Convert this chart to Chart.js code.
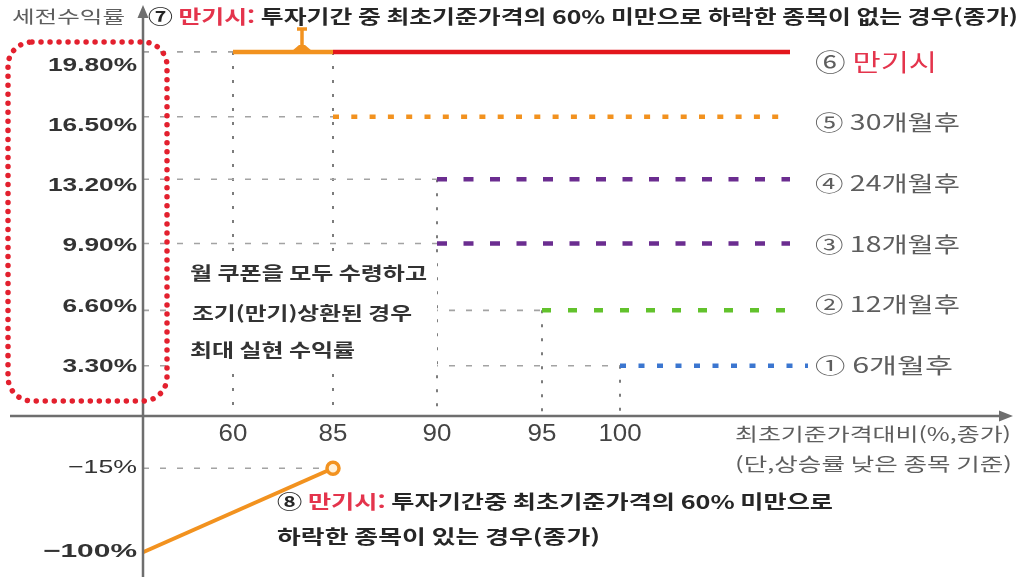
<!DOCTYPE html>
<html lang="ko">
<head>
<meta charset="utf-8">
<title>세전수익률</title>
<script src="https://cdn.jsdelivr.net/npm/chart.js@4.4.1/dist/chart.umd.min.js"></script>
<style>
  html, body { margin: 0; padding: 0; background: #fff; }
  #wrap { width: 1030px; height: 579px; position: relative; }
</style>
</head>
<body>
<div id="wrap"><canvas id="payoff"></canvas></div>
<script>
// values
const xTicks = [60, 85, 90, 95, 100];
const levels = [19.8, 16.5, 13.2, 9.9, 6.6, 3.3];
const levelLabels = ['19.80%', '16.50%', '13.20%', '9.90%', '6.60%', '3.30%'];
const seriesNames = ['⑥ 만기시', '⑤ 30개월후', '④ 24개월후', '③ 18개월후', '② 12개월후', '① 6개월후'];
const seriesStart = [85, 85, 90, 90, 95, 100];
const case7From = 60;   // ⑦ orange piece at 19.80%
const case7To = 85;
const lossX = [0, 85];   // ⑧ loss line
const lossY = [-100, -15];
const lossLabels = ['−100%', '−15%'];

// schematic axes: where each value sits on the (uneven) axes
const xSlot = { 0: 0, 60: 0.9, 85: 1.9, 90: 2.94, 95: 3.99, 100: 4.77 };
const ySlot = { 19.8: 6.01, 16.5: 4.99, 13.2: 4.01, 9.9: 3.0, 6.6: 1.95, 3.3: 1.08, 0: 0.29, '-15': -0.53, '-100': -1.85 };
const lineEnd = [6.47, 6.37, 6.47, 6.47, 6.5, 6.65];
const xs = v => xSlot[v];
const ys = v => ySlot[v];

// styles
const KR = '"Noto Sans CJK KR", "Noto Sans", sans-serif';
const NUM = '"Liberation Sans", Arial, sans-serif';
const RED = '#e3161c';
const ORANGE = '#f2921f';
const lineColors = [RED, ORANGE, '#6b2d90', '#6b2d90', '#62c22c', '#3b76d0'];
const lineDash = [[], [6, 12.3], [10, 16.5], [10, 16.5], [9, 17], [6, 12.5]];

const datasets = [];

levels.forEach((v, i) => {
    datasets.push({
        data: [{ x: xs(seriesStart[i]), y: ys(v) }, { x: lineEnd[i], y: ys(v) }],
        borderColor: lineColors[i],
        borderWidth: 4.5,
        borderDash: lineDash[i],
        order: 1
    });
});

// ⑦ no stock fell below 60%
datasets.push({
    data: [{ x: xs(case7From), y: ys(levels[0]) }, { x: xs(case7To), y: ys(levels[0]) }],
    borderColor: ORANGE,
    borderWidth: 4.5,
    order: 1
});

// ⑧ some stock fell below 60%
datasets.push({
    data: lossX.map((x, i) => ({ x: xs(x), y: ys(lossY[i]) })),
    borderColor: ORANGE,
    borderWidth: 4,
    pointRadius: [0, 6],
    pointBorderWidth: 3.5,
    pointBorderColor: ORANGE,
    pointBackgroundColor: '#fff0d8',
    order: 0
});

// gray guides: horizontal
levels.forEach((v, i) => {
    const to = i === 0 ? case7From : seriesStart[i];
    datasets.push({
        data: [{ x: 0, y: ys(v) }, { x: xs(to), y: ys(v) }],
        borderColor: '#a3a3a3',
        borderWidth: 1.6,
        borderDash: [6, 11],
        order: 5
    });
});
datasets.push({
    data: [{ x: 0, y: ys(lossY[1]) }, { x: xs(lossX[1]), y: ys(lossY[1]) }],
    borderColor: '#a3a3a3',
    borderWidth: 1.6,
    borderDash: [6, 11],
    order: 5
});

// gray guides: vertical
xTicks.forEach(x => {
    const tops = levels.filter((v, i) => seriesStart[i] === x);
    if (x === case7From) tops.push(levels[0]);
    datasets.push({
        data: [{ x: xs(x), y: ys(Math.max(...tops)) }, { x: xs(x), y: ys(0) }],
        borderColor: '#7c7c7c',
        borderWidth: 2,
        borderDash: [3, 11],
        order: 6
    });
});

// draws text parts (text, color), stretched to a width if given
function put(ctx, parts, x, y, o) {
    ctx.save();
    ctx.font = (o.weight || 'normal') + ' ' + o.size + 'px ' + (o.family || KR);
    ctx.textBaseline = 'middle';
    ctx.textAlign = 'left';
    const widths = parts.map(p => ctx.measureText(p[0]).width);
    const total = widths.reduce((a, b) => a + b, 0);
    const sx = o.width ? o.width / total : (o.sx || 1);
    const w = total * sx;
    const left = o.align === 'right' ? x - w : o.align === 'center' ? x - w / 2 : x;
    ctx.translate(left, y);
    ctx.scale(sx, 1);
    let cx = 0;
    parts.forEach((p, i) => {
        ctx.fillStyle = p[1];
        ctx.fillText(p[0], cx, 0);
        cx += widths[i];
    });
    ctx.restore();
}

function stretchFor(ctx, text, font, width) {
    ctx.save();
    ctx.font = font;
    const w = ctx.measureText(text).width;
    ctx.restore();
    return width / w;
}

const decor = {
    id: 'decor',
    afterDatasetsDraw(chart) {
        const { ctx } = chart;
        const sx = chart.scales.x, sy = chart.scales.y;
        const ax = sx.getPixelForValue(0);
        const ay = sy.getPixelForValue(ys(0));
        const W = chart.width, H = chart.height;

        // white box behind the middle note
        ctx.save();
        ctx.fillStyle = '#fff';
        ctx.fillRect(172, 253, 265, 120);
        ctx.restore();

        // axes with arrow heads
        ctx.save();
        ctx.strokeStyle = '#6e6e6e';
        ctx.fillStyle = '#6e6e6e';
        ctx.lineWidth = 2.5;
        ctx.beginPath();
        ctx.moveTo(10, ay);
        ctx.lineTo(W - 26, ay);
        ctx.moveTo(ax, H - 2);
        ctx.lineTo(ax, 14);
        ctx.stroke();
        ctx.beginPath();
        ctx.moveTo(W - 17, ay);
        ctx.lineTo(W - 31, ay - 5.5);
        ctx.lineTo(W - 31, ay + 5.5);
        ctx.closePath();
        ctx.moveTo(ax, 5);
        ctx.lineTo(ax - 5.5, 18);
        ctx.lineTo(ax + 5.5, 18);
        ctx.closePath();
        ctx.fill();
        ctx.restore();

        // red dotted frame round the yield ticks
        ctx.save();
        ctx.strokeStyle = '#e3202e';
        ctx.lineWidth = 5.5;
        ctx.lineCap = 'round';
        ctx.setLineDash([0.01, 9]);
        ctx.beginPath();
        ctx.roundRect(8, 42, 159, 359, 24);
        ctx.stroke();
        ctx.restore();

        // ⑦ pointer onto the orange piece
        const mx = sx.getPixelForValue(xs(case7From) + 0.69 * (xs(case7To) - xs(case7From)));
        const my = sy.getPixelForValue(ys(levels[0]));
        ctx.save();
        ctx.strokeStyle = ORANGE;
        ctx.fillStyle = ORANGE;
        ctx.lineWidth = 3.5;
        ctx.beginPath();
        ctx.moveTo(mx - 5, 29);
        ctx.lineTo(mx + 5, 29);
        ctx.moveTo(mx, 29);
        ctx.lineTo(mx, my);
        ctx.stroke();
        ctx.beginPath();
        ctx.moveTo(mx - 10, my - 1);
        ctx.lineTo(mx - 3, my - 7);
        ctx.lineTo(mx + 3, my - 7);
        ctx.lineTo(mx + 10, my - 1);
        ctx.closePath();
        ctx.fill();
        ctx.restore();

        const dark = '#262626', gray = '#5e5e5e', pink = '#e4344c';

        // titles
        put(ctx, [['세전수익률', gray]], 12, 17, { size: 17, width: 113 });
        put(ctx, [['⑦ ', dark], ['만기시:', pink], [' 투자기간 중 최초기준가격의 60% 미만으로 하락한 종목이 없는 경우(종가)', dark]],
            148, 17, { size: 19, weight: 'bold', width: 870 });

        // y tick labels (evenly spaced rows)
        const tickFont = 'bold 18px ' + NUM;
        const tickSx = stretchFor(ctx, levelLabels[0], tickFont, 89);
        const rowBase = sy.getPixelForValue(ys(3.3));
        levelLabels.forEach((t, i) => {
            const k = levelLabels.length - 1 - i;
            put(ctx, [[t, '#333']], ax - 6, rowBase + 1 - k * 60.2, { size: 18, weight: 'bold', family: NUM, sx: tickSx, align: 'right' });
        });
        lossY.forEach((v, i) => {
            put(ctx, [[lossLabels[i], '#333']], ax - 6, sy.getPixelForValue(ys(v)),
                { size: 19, weight: i === 0 ? 'bold' : 'normal', family: NUM, width: i === 0 ? 94 : 69, align: 'right' });
        });

        // x tick labels
        xTicks.forEach(t => {
            put(ctx, [[String(t), '#444']], sx.getPixelForValue(xs(t)), ay + 18, { size: 24, family: NUM, sx: 1.08, align: 'center' });
        });
        put(ctx, [['최초기준가격대비(%,종가)', gray]], 1011, 434, { size: 18, width: 276, align: 'right' });
        put(ctx, [['(단,상승률 낮은 종목 기준)', gray]], 1012, 464, { size: 18, width: 277, align: 'right' });

        // series names on the right
        const lx = sx.getPixelForValue(6.72);
        seriesNames.forEach((t, i) => {
            const k = seriesNames.length - 1 - i;
            const yy = rowBase - 1 - k * 60.6;
            if (i === 0) {
                put(ctx, [['⑥ ', gray], [t.slice(2), pink]], lx, yy, { size: 24, width: 122 });
            } else {
                put(ctx, [[t, gray]], lx, yy, { size: 21, width: i === 5 ? 138 : 145 });
            }
        });

        // middle note
        put(ctx, [['월 쿠폰을 모두 수령하고', '#333']], 190, 273, { size: 18, weight: 'bold', width: 237 });
        put(ctx, [['조기(만기)상환된 경우', '#333']], 192, 313, { size: 18, weight: 'bold', width: 220 });
        put(ctx, [['최대 실현 수익률', '#333']], 190, 350, { size: 18, weight: 'bold', width: 165 });

        // ⑧ note
        put(ctx, [['⑧ ', dark], ['만기시:', pink], [' 투자기간중 최초기준가격의 60% 미만으로', dark]],
            277, 502, { size: 19, weight: 'bold', width: 556 });
        put(ctx, [['하락한 종목이 있는 경우(종가)', dark]], 277, 537, { size: 19, weight: 'bold', width: 323 });
    }
};

new Chart(document.getElementById('payoff'), {
    type: 'line',
    data: { datasets: datasets },
    options: {
        responsive: true,
        maintainAspectRatio: false,
        animation: false,
        events: [],
        layout: { padding: 0, autoPadding: false },
        elements: {
            point: { radius: 0, hoverRadius: 0 },
            line: { tension: 0, borderCapStyle: 'butt' }
        },
        scales: {
            x: { type: 'linear', min: -1.43, max: 8.87, display: false },
            y: { type: 'linear', min: -2.270, max: 6.825, display: false }
        },
        plugins: {
            legend: { display: false },
            tooltip: { enabled: false }
        }
    },
    plugins: [decor]
});
</script>
</body>
</html>
